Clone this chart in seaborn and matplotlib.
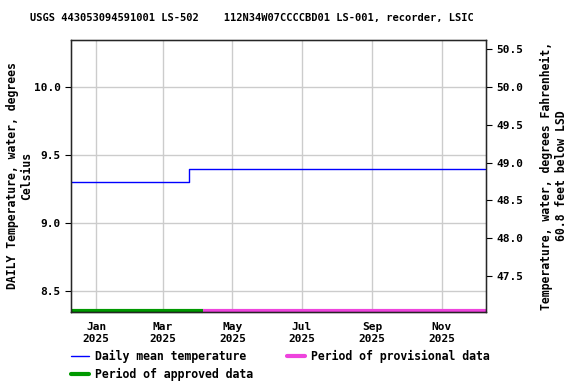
import pandas as pd
import matplotlib
matplotlib.use("Agg")
import matplotlib.pyplot as plt
import matplotlib.dates as mdates
from matplotlib.lines import Line2D
import seaborn as sns

# Данные
step_dates = ["2024-12-10", "2025-03-24", "2025-12-09"]
temp_c = [9.3, 9.4, 9.4]
approved_period = ["2024-12-10", "2025-04-05"]
provisional_period = ["2025-04-05", "2025-12-10"]
x_limits = ["2024-12-10", "2025-12-10"]
y_limits = [8.346, 10.346]
left_ticks = [8.5, 9.0, 9.5, 10.0]
right_ticks = [47.5, 48.0, 48.5, 49.0, 49.5, 50.0, 50.5]

title = "USGS 443053094591001 LS-502    112N34W07CCCCBD01 LS-001, recorder, LSIC"
left_label = "DAILY Temperature, water, degrees\nCelsius"
right_label = "Temperature, water, degrees Fahrenheit,\n60.8 feet below LSD"

df = pd.DataFrame({"date": pd.to_datetime(step_dates), "temp": temp_c})

sns.set_style("white")
plt.rcParams["font.family"] = ["DejaVu Sans Mono"]
plt.rcParams["font.weight"] = "bold"
plt.rcParams["font.size"] = 8
plt.rcParams["text.color"] = "black"
plt.rcParams["axes.labelcolor"] = "black"
plt.rcParams["xtick.color"] = "black"
plt.rcParams["ytick.color"] = "black"

fig = plt.figure(figsize=(5.76, 3.84), dpi=100)
ax = fig.add_axes([0.1233, 0.1875, 0.7205, 0.7083])

sns.lineplot(data=df, x="date", y="temp", ax=ax, color="#0000ff", linewidth=1,
             drawstyle="steps-post")

# Периоды данных
ax.plot(pd.to_datetime(provisional_period), [0.004, 0.004], color="#ee44dd", linewidth=3,
        transform=ax.get_xaxis_transform(), solid_capstyle="butt", clip_on=False)
ax.plot(pd.to_datetime(approved_period), [0.004, 0.004], color="#009900", linewidth=3,
        transform=ax.get_xaxis_transform(), solid_capstyle="butt", clip_on=False)

ax.set_xlim(pd.to_datetime(x_limits))
ax.set_ylim(y_limits)
ax.set_yticks(left_ticks)
ax.set_yticklabels([f"{v:.1f}" for v in left_ticks])
ax.xaxis.set_major_locator(mdates.MonthLocator(bymonth=[1, 3, 5, 7, 9, 11]))
ax.xaxis.set_major_formatter(mdates.DateFormatter("%b\n%Y"))
ax.grid(True, color="#cccccc", linewidth=1)
ax.set_xlabel("")
ax.set_ylabel(left_label, fontsize=8.3, fontweight="bold", labelpad=0)
ax.tick_params(axis="both", length=4, direction="out", labelsize=8)
for s in ax.spines.values():
    s.set_color("black")
    s.set_linewidth(1)

# Правая ось в Фаренгейтах
ax2 = ax.twinx()
ax2.set_ylim(y_limits[0] * 1.8 + 32, y_limits[1] * 1.8 + 32)
ax2.set_yticks(right_ticks)
ax2.set_yticklabels([f"{v:.1f}" for v in right_ticks])
ax2.set_ylabel(right_label, fontsize=8.3, fontweight="bold", labelpad=12)
ax2.tick_params(axis="y", length=4, direction="out", labelsize=8)

fig.suptitle(title, x=0.4375, y=0.965, fontsize=7.5, fontweight="bold")

handles = [
    Line2D([0], [0], color="#0000ff", linewidth=1),
    Line2D([0], [0], color="#009900", linewidth=3),
    Line2D([0], [0], color="#ee44dd", linewidth=3),
]
labels = ["Daily mean temperature", "Period of approved data", "Period of provisional data"]
fig.legend(handles, labels, ncol=2, loc="upper left", bbox_to_anchor=(0.115, 0.1),
           frameon=False, prop={"size": 8.3, "weight": "bold"}, handlelength=1.6,
           handletextpad=0.5, columnspacing=2.9, labelspacing=0.4, borderaxespad=0)

fig.savefig("out.png", dpi=100)
